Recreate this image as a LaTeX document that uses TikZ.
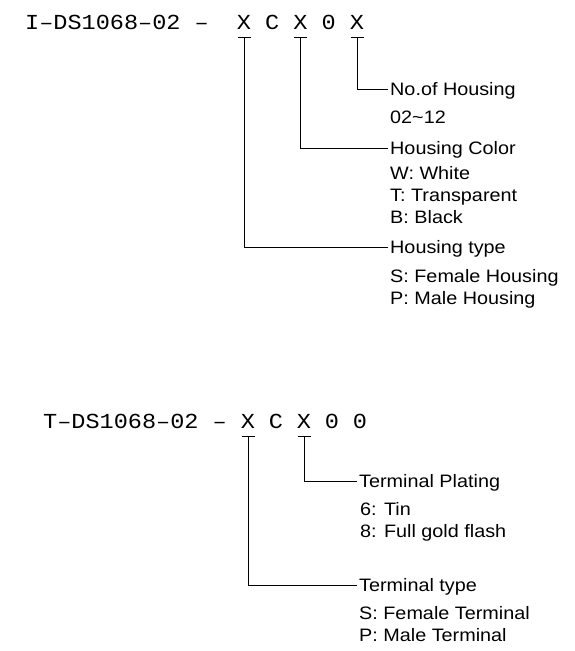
\documentclass[tikz,border=0pt]{standalone}
\usepackage{fontspec}
\setmainfont{Liberation Sans}[FakeStretch=1.1]
\newfontfamily\codefont{Liberation Mono}[FakeStretch=1.1]

\begin{document}
\begin{tikzpicture}[x=1pt, y=-1pt,
    code/.style={font=\codefont\fontsize{21.4}{24}\selectfont, inner sep=0pt, anchor=base},
    head/.style={font=\fontsize{18}{22}\selectfont, inner sep=2pt, text depth=0pt, anchor=west},
    body/.style={font=\fontsize{18}{22}\selectfont, inner sep=0pt, align=left, anchor=north west},
    lead/.style={line width=0.9pt}]
    \useasboundingbox (0,0) rectangle (574,651);
    %housing code
    \node[code, anchor=base west] (hpre) at (25,29) {I–DS1068–02~–};
    \node[code] (hx1) at (244,29) {X};
    \node[code] (hc) at (272.25,29) {C};
    \node[code] (hx2) at (300.5,29) {X};
    \node[code] (ho) at (328.75,29) {0};
    \node[code] (hx3) at (357,29) {X};
    \node[head] (nh) at (388,89) {No.of Housing};
    \node[body] (nhb) at (390,110.5) {02\textasciitilde12};
    \node[head] (nc) at (388,148) {Housing Color};
    \node[body] (ncb) at (390,166.5) {W: White\\T: Transparent\\B: Black};
    \node[head] (nt) at (388,247) {Housing type};
    \node[body] (ntb) at (390,269.5) {S: Female Housing\\P: Male Housing};
    \draw[lead] ([shift={(-6.5pt,-8pt)}]hx3.base) -- ([shift={(6.5pt,-8pt)}]hx3.base);
    \draw[lead] ([yshift=-8pt]hx3.base) |- (nh.west);
    \draw[lead] ([shift={(-6.5pt,-8pt)}]hx2.base) -- ([shift={(6.5pt,-8pt)}]hx2.base);
    \draw[lead] ([yshift=-8pt]hx2.base) |- (nc.west);
    \draw[lead] ([shift={(-6.5pt,-8pt)}]hx1.base) -- ([shift={(6.5pt,-8pt)}]hx1.base);
    \draw[lead] ([yshift=-8pt]hx1.base) |- (nt.west);
    %terminal code
    \node[code, anchor=base west] (tpre) at (43,428) {T–DS1068–02~–};
    \node[code] (tx1) at (248,428) {X};
    \node[code] (tc) at (276,428) {C};
    \node[code] (tx2) at (304,428) {X};
    \node[code] (to1) at (332,428) {0};
    \node[code] (to2) at (360,428) {0};
    \node[head] (np) at (357,481) {Terminal Plating};
    \node[body] (npb) at (360,502.5) {6: Tin\\8: Full gold flash};
    \node[head] (ntt) at (357,585) {Terminal type};
    \node[body] (nttb) at (359,606.5) {S: Female Terminal\\P: Male Terminal};
    \draw[lead] ([shift={(-6.5pt,-8pt)}]tx2.base) -- ([shift={(6.5pt,-8pt)}]tx2.base);
    \draw[lead] ([yshift=-8pt]tx2.base) |- (np.west);
    \draw[lead] ([shift={(-6.5pt,-8pt)}]tx1.base) -- ([shift={(6.5pt,-8pt)}]tx1.base);
    \draw[lead] ([yshift=-8pt]tx1.base) |- (ntt.west);
\end{tikzpicture}
\end{document}
